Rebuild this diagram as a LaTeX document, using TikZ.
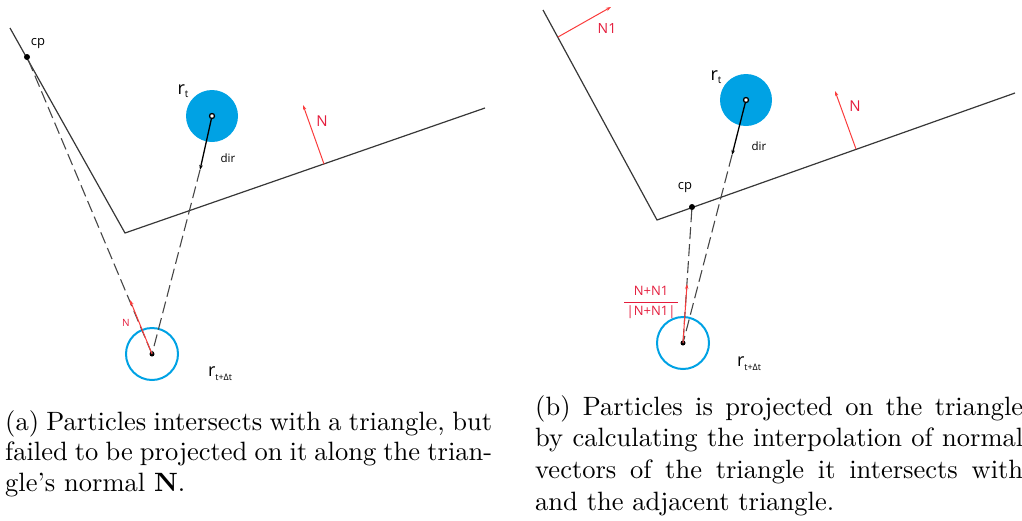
\documentclass[tikz,border=0pt]{standalone}
\usepackage{fontspec}
\newfontfamily\labelfont{Open Sans}
\newfontfamily\capfont{lmroman10}[Extension=.otf, UprightFont=*-regular, BoldFont=*-bold, Ligatures=TeX]
\usetikzlibrary{arrows.meta}

\begin{document}
\begin{tikzpicture}[x=1pt, y=-1pt,
    surface/.style={draw=surfacecolor, line width=1.2pt, line join=miter},
    trace/.style={draw=tracecolor, line width=1.1pt, dash pattern=on 12pt off 5pt},
    normalvec/.style={draw=arrowcolor, line width=1pt, -{Stealth[length=5pt,width=3.5pt]}},
    dirvec/.style={draw=black, line width=1.3pt, -{Stealth[length=5pt,width=3.5pt]}},
    oldpos/.style={circle, draw=black, fill=white, line width=1.3pt, inner sep=0pt, minimum size=5pt},
    newpos/.style={circle, fill=black, inner sep=0pt, minimum size=5pt},
    contact/.style={circle, fill=black, inner sep=0pt, minimum size=6pt},
    lbl/.style={inner sep=0pt, font=\labelfont\fontsize{#1}{#1}\selectfont},
    redlbl/.style={lbl=#1, text=labelcolor},
    caption/.style={inner sep=0pt, anchor=base west, align=justify,
        font=\capfont\fontsize{26.5}{30.5}\selectfont}]

    % Define the colors
    \definecolor{surfacecolor}{RGB}{55, 55, 55}
    \definecolor{tracecolor}{RGB}{70, 70, 70}
    \definecolor{particlecolor}{RGB}{0, 162, 228}
    \definecolor{arrowcolor}{RGB}{250, 60, 60}
    \definecolor{labelcolor}{RGB}{228, 28, 60}

    \useasboundingbox (0,0) rectangle (1022,520);

    % ---------------- (a) ----------------
    % Draw the triangles
    \coordinate (sa) at (10,28);
    \coordinate (va) at (125,233);
    \coordinate (ea) at (485,108);
    \draw[surface] (sa) -- (va) -- (ea);

    % Draw the particle at r_t and at r_{t+dt}
    \fill[particlecolor] (212,116) circle[radius=26];
    \draw[particlecolor, line width=2pt] (152,354) circle[radius=26];
    \node[oldpos] (pa) at (212,116) {};
    \node[newpos] (qa) at (152,354) {};
    \node[contact] (cpa) at (27,57) {};
    \coordinate (dira) at (200,170);

    % Draw the paths
    \draw[trace] (cpa) -- (qa.center);
    \draw[trace] (dira) -- (qa.center);
    \draw[dirvec] (pa) -- (dira);

    % Draw the normals
    \coordinate (nab) at (324,164);
    \coordinate (nat) at (303,105);
    \draw[normalvec] (nab) -- (nat);
    \coordinate (nqt) at (130,300);
    \draw[normalvec] (qa.center) -- (nqt);

    % Labels
    \node[lbl=13] (cpalbl) at (38,44) {cp};
    \node[lbl=18] (ralbl) at (183,91) {r\raisebox{-3pt}{\fontsize{10}{10}\selectfont t}};
    \node[lbl=18] (qalbl) at (220,374) {r\raisebox{-4pt}{\fontsize{9}{9}\selectfont t+Δt}};
    \node[lbl=11.5] (diralbl) at (228,158) {dir};
    \node[redlbl=15] (nalbl) at (322,121) {N};
    \node[redlbl=10] (nqlbl) at (126,323) {N};

    % ---------------- (b) ----------------
    % Draw the triangles
    \coordinate (sb) at (543,10);
    \coordinate (vb) at (657,220);
    \coordinate (eb) at (1015,93);
    \draw[surface] (sb) -- (vb) -- (eb);

    % Draw the particle at r_t and at r_{t+dt}
    \fill[particlecolor] (746,100) circle[radius=26];
    \draw[particlecolor, line width=2pt] (683,343) circle[radius=26];
    \node[oldpos] (pb) at (746,100) {};
    \node[newpos] (qb) at (683,343) {};
    \node[contact] (cpb) at (692,207) {};
    \coordinate (dirb) at (732,155);

    % Draw the paths
    \draw[trace] (cpb) -- (qb.center);
    \draw[trace] (dirb) -- (qb.center);
    \draw[dirvec] (pb) -- (dirb);

    % Draw the normals
    \coordinate (n1b) at (558,37);
    \coordinate (n1t) at (611,7);
    \draw[normalvec] (n1b) -- (n1t);
    \coordinate (nbb) at (856,149);
    \coordinate (nbt) at (835,91);
    \draw[normalvec] (nbb) -- (nbt);
    \coordinate (nmt) at (687,284);
    \draw[normalvec] (qb.center) -- (nmt);

    % Labels
    \node[lbl=13] (cpblbl) at (685,188) {cp};
    \node[lbl=18] (rblbl) at (716,77) {r\raisebox{-3pt}{\fontsize{10}{10}\selectfont t}};
    \node[lbl=18] (qblbl) at (749,364) {r\raisebox{-4pt}{\fontsize{9}{9}\selectfont t+Δt}};
    \node[lbl=11.5] (dirblbl) at (759,146) {dir};
    \node[redlbl=14] (n1lbl) at (607,28) {N1};
    \node[redlbl=15] (nblbl) at (855,106) {N};
    \node[redlbl=13] (nmlbl) at (651,302)
        {\def\arraystretch{1.45}\setlength\arrayrulewidth{0.9pt}\begin{tabular}{@{\,}c@{\,}}N+N1\\\hline|N+N1|\end{tabular}};

    % Captions
    \node[caption, text width=487pt] (capa) at (5,430)
        {(a) Particles intersects with a triangle, but failed to be projected on it along the trian\-gle's normal \textbf{N}.};
    \node[caption, text width=488pt, font=\capfont\fontsize{26.5}{31.7}\selectfont] (capb) at (535,415)
        {(b) Particles is projected on the triangle by calculating the interpolation of normal vectors of the triangle it intersects with and the adjacent triangle.};

\end{tikzpicture}
\end{document}
